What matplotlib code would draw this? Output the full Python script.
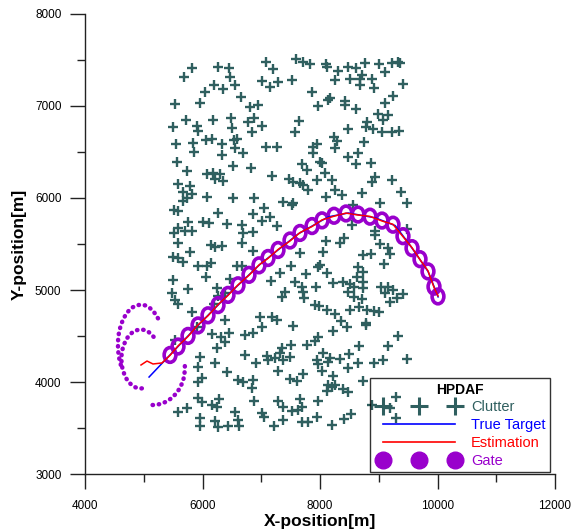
import numpy as np
import matplotlib.pyplot as plt
from matplotlib.patches import Ellipse, Arc
from matplotlib.lines import Line2D
from matplotlib.legend_handler import HandlerLine2D

plt.rcParams['font.family'] = ['Liberation Sans', 'DejaVu Sans']

# clutter measurements (x, y) in metres
clutter_xy = [
    (5827, 7410), (5685, 7319), (6258, 7428), (6456, 7410), (7074, 7482), (7585, 7511),
    (7193, 7399), (6468, 7312), (6190, 7232), (6553, 7232), (6343, 7185), (6048, 7153),
    (7018, 7272), (7148, 7203), (7278, 7258), (7517, 7283), (6649, 7099), (5532, 7019),
    (5957, 7030), (6814, 6994), (6950, 7012), (5714, 6849), (6184, 6849), (6479, 6874),
    (6768, 6823), (6882, 6874), (7018, 6784), (5498, 6776), (5912, 6784), (5929, 6729),
    (6496, 6758), (6836, 6715), (7573, 6722), (6054, 6631), (6167, 6639), (6541, 6631),
    (5549, 6584), (5844, 6602), (6337, 6584), (6581, 6639),
    (7716, 7475), (7829, 7453), (8101, 7457), (8124, 7428), (8311, 7385), (8470, 7428),
    (8612, 7410), (8765, 7464), (9008, 7457), (9105, 7374), (9218, 7471), (9332, 7482),
    (9360, 7464), (8254, 7283), (8510, 7290), (8708, 7337), (8680, 7290), (8878, 7290),
    (8680, 7229), (8918, 7200), (9405, 7240), (7858, 7156), (8141, 7066), (8169, 7091),
    (8425, 7059), (8425, 7012), (7971, 7001), (8612, 6965), (9235, 7109), (9105, 7030),
    (8980, 6914), (9162, 6903), (9077, 6849), (8793, 6831), (8782, 6769), (8907, 6751),
    (8470, 6751), (9060, 6715), (9218, 6715), (9349, 6729), (7648, 6838), (8237, 6661),
    (8283, 6624), (8753, 6613), (7943, 6588),
    (5861, 6503), (6326, 6467), (6553, 6539), (6694, 6485), (7074, 6550), (7261, 6550),
    (5560, 6395), (5742, 6297), (6071, 6257), (6184, 6268), (6298, 6257), (6213, 6203),
    (6354, 6185), (6524, 6347), (6825, 6322), (7188, 6239), (7471, 6206), (7534, 6170),
    (5589, 6148), (5787, 6130), (5663, 6069), (5816, 6043), (5674, 5971), (5731, 5996),
    (6082, 6007), (6524, 6003), (6882, 5996), (7375, 5953), (7545, 5942), (7517, 5924),
    (5521, 5869), (5589, 5862), (6258, 5841), (7046, 5888), (6865, 5822), (7148, 5797),
    (7006, 5750), (5748, 5743), (6014, 5736), (6116, 5732), (6411, 5717), (6666, 5706),
    (7273, 5695), (5577, 5670), (5702, 5641), (5816, 5641), (6865, 5634), (6694, 5616),
    (5521, 5616),
    (7886, 6558), (8254, 6539), (7886, 6485), (8481, 6442), (8640, 6492), (8606, 6369),
    (8867, 6384), (7687, 6369), (7772, 6304), (8000, 6395), (8028, 6377), (8084, 6268),
    (7943, 6196), (8198, 6196), (8935, 6232), (8890, 6177), (9230, 6196), (7659, 6159),
    (7716, 6141), (7801, 6087), (8254, 6087), (8708, 6058), (9377, 6069), (8101, 6014),
    (8368, 6032), (9485, 5949), (9020, 5942), (8566, 5924), (8935, 5645), (8538, 5707),
    (9473, 5660),
    (5589, 5514), (6678, 5507), (6144, 5489), (6213, 5464), (6326, 5478), (6865, 5428),
    (5504, 5355), (5589, 5344), (5674, 5308), (5787, 5417), (5929, 5264), (6071, 5261),
    (6139, 5297), (6581, 5261), (6678, 5261), (6054, 5145), (5504, 5109), (6468, 5116),
    (7165, 5101), (7318, 5181), (7505, 5261), (7573, 5091), (5487, 4971), (5748, 5007),
    (6241, 5018), (6383, 4971), (6270, 4935), (7404, 4982), (7347, 4928), (5532, 4891),
    (5589, 4848), (6201, 4848), (5816, 4765), (6383, 4674), (6978, 4703), (7177, 4703),
    (7261, 4674),
    (7659, 5399), (8101, 5532), (8340, 5507), (8413, 5562), (8935, 5598), (9020, 5500),
    (9162, 5453), (9190, 5391), (8056, 5417), (8736, 5380), (8867, 5391), (9088, 5283),
    (8000, 5272), (7971, 5254), (8113, 5181), (7755, 5174), (8651, 5246), (8736, 5199),
    (8623, 5145), (7687, 5029), (7716, 4982), (7733, 4909), (7931, 5036), (8226, 5080),
    (8396, 5084), (8510, 5065), (8481, 4982), (8583, 5029), (8736, 5091), (8736, 5018),
    (8708, 4899), (8583, 4928), (9037, 5036), (9162, 5029), (9105, 4971), (9247, 5000),
    (9417, 4953), (9304, 4910), (9190, 4874), (7914, 4837), (7982, 4826), (8113, 4783),
    (8254, 4739), (8510, 4783), (8663, 4819), (8793, 4783), (8924, 4776), (9003, 4765),
    (8351, 4667), (8776, 4638),
    (5532, 4457), (5901, 4602), (6156, 4522), (6315, 4493), (6383, 4439), (6451, 4529),
    (6241, 4366), (6723, 4511), (6865, 4536), (7006, 4594), (7545, 4609), (5957, 4276),
    (6213, 4203), (6723, 4294), (6904, 4211), (7091, 4283), (7120, 4240), (7233, 4258),
    (7318, 4312), (7347, 4366), (7375, 4240), (7505, 4402), (7489, 4276), (5929, 4167),
    (6411, 4113), (7278, 4124), (5929, 4004), (5986, 4040), (6610, 4022), (6694, 4004),
    (6865, 4022), (6848, 3932), (7489, 4030), (7602, 4011), (5929, 3823), (5986, 3787),
    (6156, 3751), (6241, 3725), (6281, 3812), (6882, 3798), (7278, 3798), (7375, 3725),
    (5731, 3715), (5589, 3678), (6553, 3678), (7006, 3667), (7052, 3624), (7517, 3689),
    (5957, 3606), (5957, 3522), (6213, 3581), (6270, 3515), (6440, 3522), (6610, 3588),
    (6621, 3522), (7222, 3522), (7375, 3588),
    (8453, 4602), (8776, 4620), (8226, 4558), (7772, 4402), (7914, 4450), (7971, 4493),
    (8668, 4395), (9162, 4392), (9320, 4500), (8056, 4312), (7943, 4240), (7971, 4196),
    (8169, 4258), (8141, 4221), (8340, 4250), (8498, 4301), (8640, 4203), (8481, 4149),
    (8923, 4203), (9077, 4240), (9473, 4250), (8028, 4120), (7716, 4084), (8226, 4066),
    (8141, 3968), (8198, 3943), (8254, 3968), (8396, 3925), (8481, 3896), (8113, 3906),
    (8736, 4015), (7659, 3812), (7971, 3798), (7699, 3733), (7631, 3697), (7687, 3570),
    (7801, 3570), (7943, 3617), (8413, 3595), (8527, 3653), (8209, 3533), (8885, 3750),
    (9191, 3717), (9293, 3837), (9293, 3609),
]

# true target trajectory
true_x = [5090, 5500, 5900, 6470, 6980, 7630, 8140, 8480, 8940, 9280, 9500, 9670, 9840, 10010]
true_y = [4054, 4330, 4600, 4970, 5280, 5610, 5795, 5837, 5785, 5700, 5515, 5360, 5200, 4925]

# gate centres (predicted positions)
gate_x = [5447, 5583, 5753, 5923, 6093, 6264, 6434, 6604, 6791, 6961, 7115, 7285, 7489, 7659,
          7864, 8034, 8238, 8442, 8647, 8851, 9055, 9242, 9412, 9566, 9702, 9838, 9940, 10008]
gate_y = [4294, 4386, 4501, 4615, 4725, 4836, 4947, 5051, 5165, 5268, 5348, 5435, 5538, 5620,
          5695, 5757, 5807, 5832, 5820, 5797, 5755, 5710, 5585, 5455, 5335, 5202, 5036, 4930]
gate_w = 200
gate_h = 160

# estimation track
est_x = [4953, 5055, 5157, 5310, 5447, 5583, 5753, 5923, 6093, 6264, 6434, 6604, 6791, 6961,
         7115, 7285, 7489, 7659, 7864, 8034, 8238, 8442, 8647, 8851, 9055, 9242, 9412, 9566,
         9702, 9838, 9940, 10008]
est_y = [4185, 4228, 4196, 4207, 4290, 4392, 4495, 4620, 4720, 4840, 4942, 5056, 5160, 5272,
         5344, 5440, 5533, 5624, 5690, 5762, 5802, 5836, 5815, 5800, 5750, 5714, 5580, 5460,
         5330, 5208, 5030, 4935]

# large initial gates (centre x, centre y, width, height, theta1, theta2)
init_gates = [
    (4950, 4400, 780, 880, 45, 215),
    (4950, 4250, 660, 640, 48, 280),
    (5150, 4150, 1100, 800, 270, 5),
]

clutter_col = '#2f5f5f'
gate_col = '#9900cc'

fig = plt.figure(figsize=(5.71, 5.32), dpi=100)
ax = fig.add_axes([0.1489, 0.109, 0.8231, 0.8647])

cx = [p[0] for p in clutter_xy]
cy = [p[1] for p in clutter_xy]
ax.plot(cx, cy, ls='none', marker='+', ms=7, mew=1.7, color=clutter_col, zorder=2)

for (x0, y0, w, h, t1, t2) in init_gates:
    ax.add_patch(Arc((x0, y0), w, h, theta1=t1, theta2=t2, color=gate_col, lw=3.2,
                     ls=(0, (0.1, 1.3)), capstyle='round', zorder=3))
for x0, y0 in zip(gate_x, gate_y):
    ax.add_patch(Ellipse((x0, y0), gate_w, gate_h, fill=False, ec=gate_col, lw=2.6, zorder=3))

ax.plot(true_x, true_y, color='blue', lw=1.1, zorder=4)
ax.plot(est_x, est_y, color='red', lw=1.1, zorder=5)

ax.set_xlim(4000, 12000)
ax.set_ylim(3000, 8000)
ax.set_xticks([4000, 6000, 8000, 10000, 12000])
ax.set_xticks([5000, 7000, 9000, 11000], minor=True)
ax.set_yticks([3000, 4000, 5000, 6000, 7000, 8000])
ax.set_yticks(np.arange(3500, 8000, 1000), minor=True)
for s in ['top', 'right']:
    ax.spines[s].set_visible(False)
for s in ['left', 'bottom']:
    ax.spines[s].set_linewidth(1.0)
    ax.spines[s].set_color('#222222')
ax.tick_params(which='major', direction='out', length=11, width=1.0, color='#222222', labelsize=8.5)
ax.tick_params(which='minor', direction='out', length=6, width=1.0, color='#222222')
ax.tick_params(axis='x', which='major', pad=8)
ax.tick_params(axis='y', which='major', pad=6)

ax.set_xlabel('X-position[m]', fontsize=12.5, fontweight='bold', labelpad=1)
ax.set_ylabel('Y-position[m]', fontsize=12.5, fontweight='bold', labelpad=6)

handles = [
    Line2D([], [], ls='none', marker='+', ms=13, mew=2.2, color=clutter_col),
    Line2D([], [], color='blue', lw=1.2),
    Line2D([], [], color='red', lw=1.2),
    Line2D([], [], ls='none', marker='o', ms=12, color=gate_col),
]
leg = ax.legend(handles, ['Clutter', 'True Target', 'Estimation', 'Gate'],
                loc='lower right', bbox_to_anchor=(0.989, 0.004), borderaxespad=0,
                numpoints=3, handlelength=5.5, handletextpad=1.1, labelspacing=0.26,
                fontsize=10.5, labelcolor='linecolor', frameon=True, fancybox=False,
                title='HPDAF', title_fontproperties={'weight': 'bold', 'size': 10},
                borderpad=0.3,
                handler_map={Line2D: HandlerLine2D(marker_pad=0, xpad=0.6)})
leg.get_frame().set_edgecolor('black')
leg.get_frame().set_facecolor('none')
leg.get_frame().set_linewidth(1.0)

fig.savefig('out.png', dpi=100)
